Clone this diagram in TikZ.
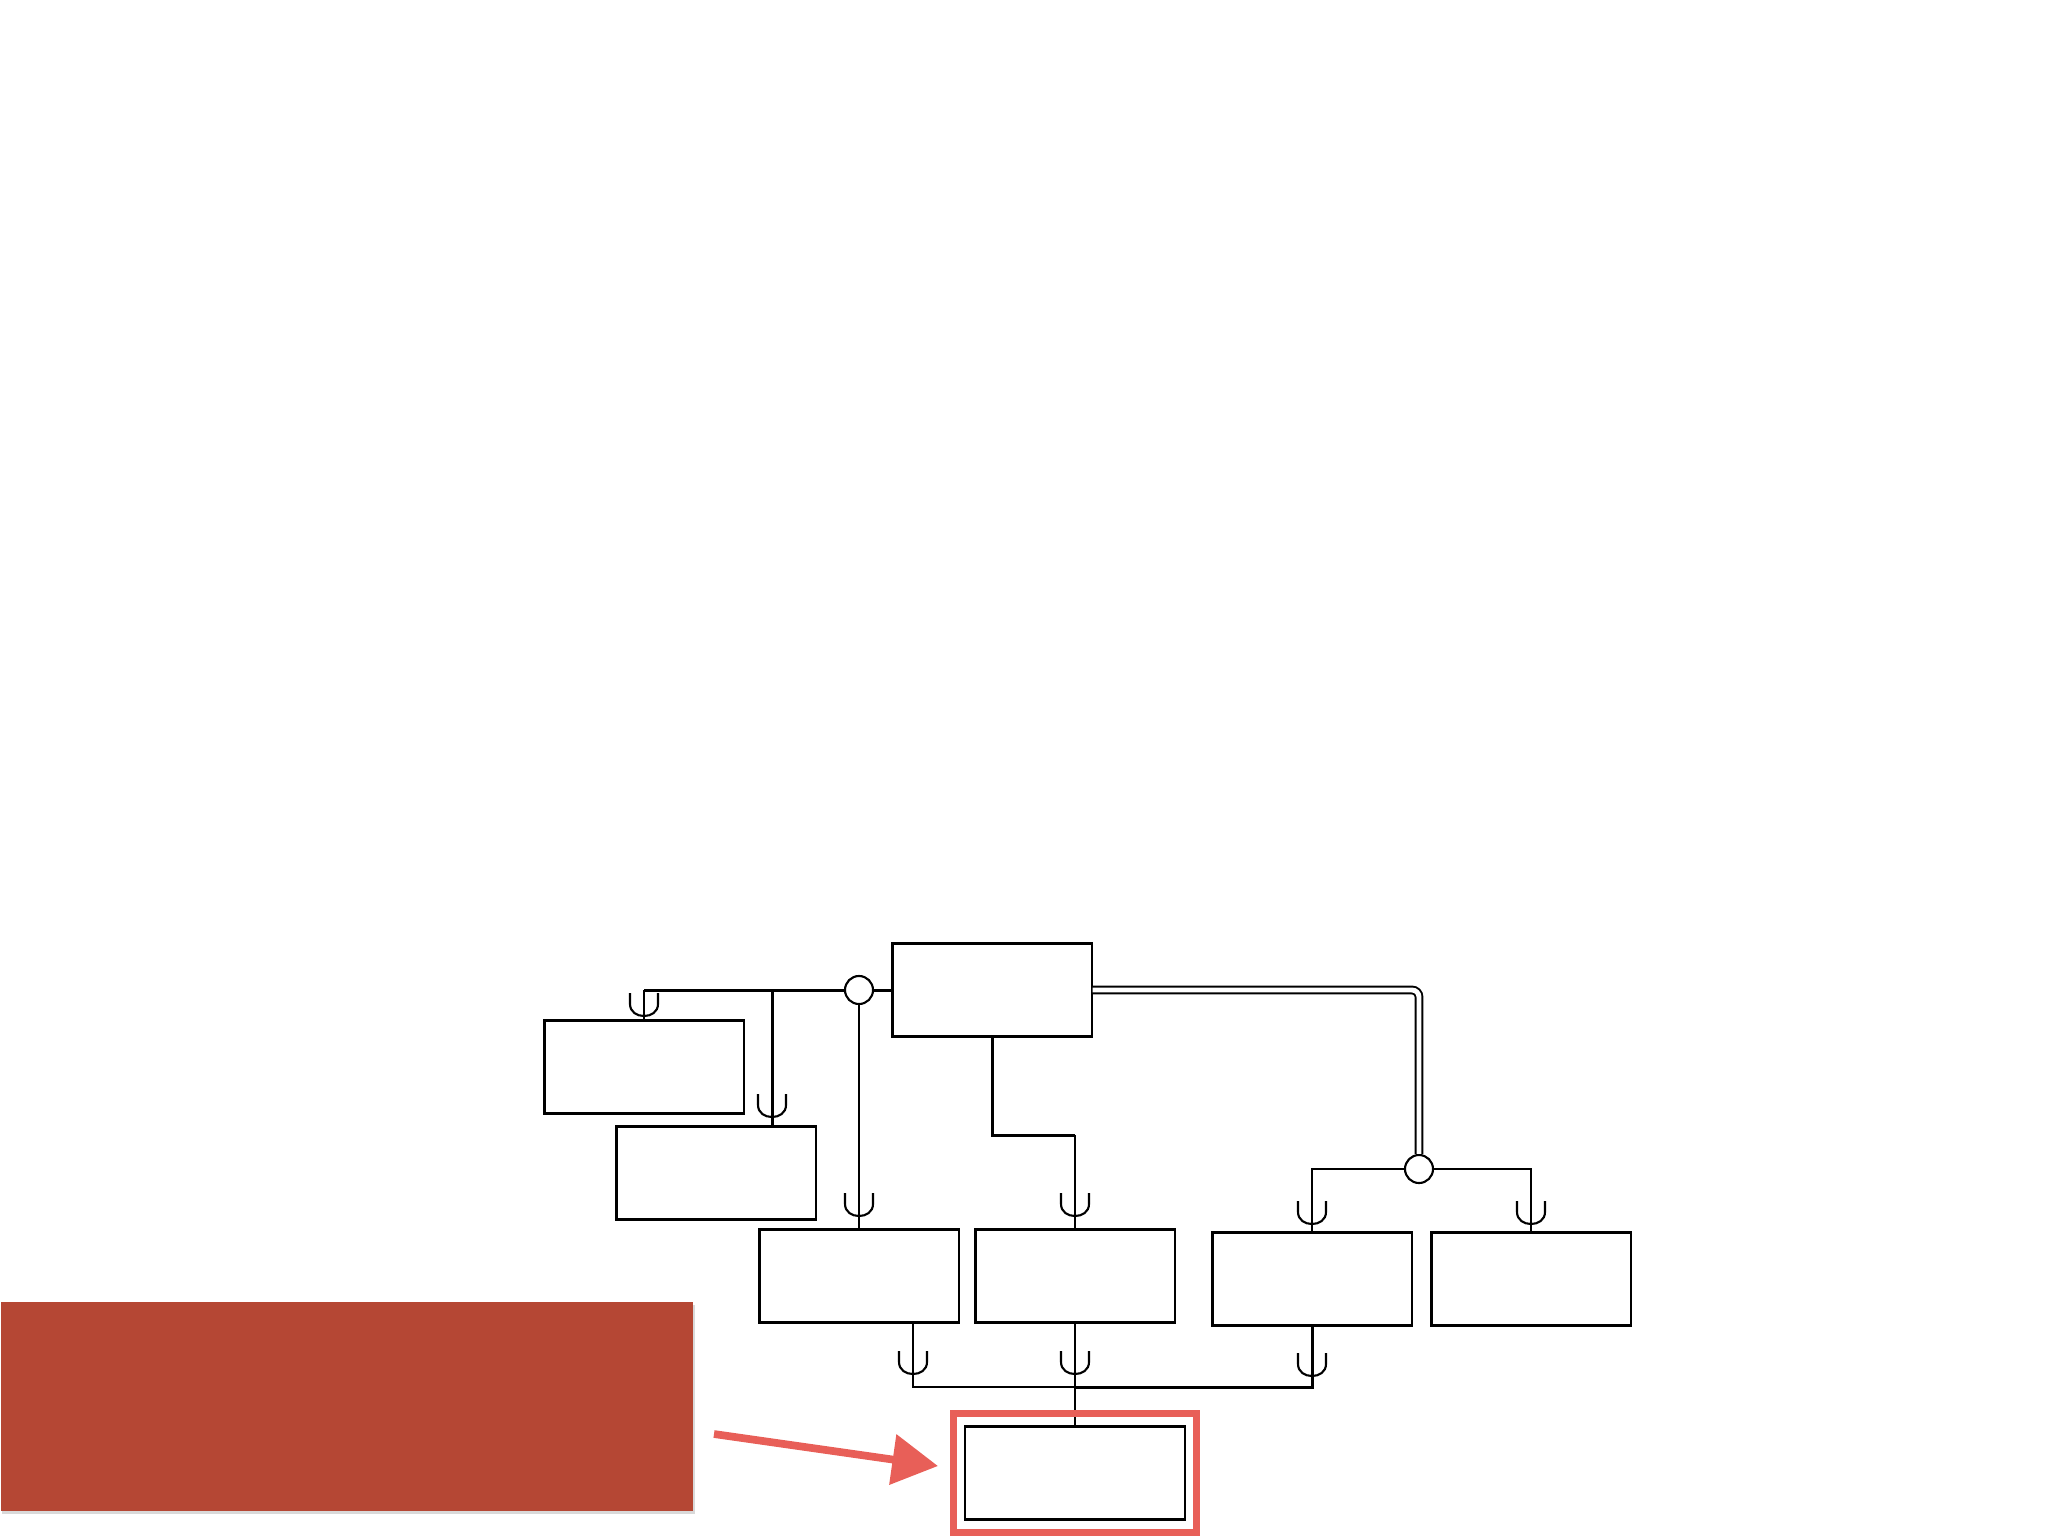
\documentclass[tikz,border=0pt]{standalone}
\usetikzlibrary{arrows.meta,fit,shadows}
\definecolor{brick}{RGB}{181,71,52}
\definecolor{chalk}{RGB}{232,95,88}

\begin{document}
\begin{tikzpicture}[x=0.01cm, y=-0.01cm,
  blk/.style={draw, line width=0.6pt, minimum width=1.99cm, minimum height=0.93cm, inner sep=0pt},
  hub/.style={draw, circle, fill=white, line width=0.6pt, minimum size=0.28cm, inner sep=0pt},
  bus/.style={line width=0.85pt},
  wire/.style={line width=0.5pt},
  sock/.pic={\draw[line width=0.6pt] (-14,0) -- (-14,11) .. controls (-14,27) and (14,27) .. (14,11) -- (14,0);}]
\useasboundingbox (0,0) rectangle (2048,1536);

% boxes
\node[blk] (main) at (992,990) {};
\node[blk] (A) at (644,1067) {};
\node[blk] (B) at (716,1173) {};
\node[blk] (C) at (859,1276) {};
\node[blk] (D) at (1075,1276) {};
\node[blk] (E) at (1312,1279) {};
\node[blk] (F) at (1531,1279) {};
\node[blk, minimum width=2.2cm] (G) at (1075,1473) {};
\node[hub] (c1) at (859,990) {};
\node[hub] (c2) at (1419,1169) {};

% connectors
\coordinate (tapB) at (772,990);
\coordinate (bendD) at (1075,1135);
\coordinate (tapC) at (913,1322);
\coordinate (mrg) at (1075,1387);
\draw[bus] (c1.west) -- (c1.west -| A.north);
\draw[wire] (c1.west -| A.north) -- (A.north);
\draw[bus] (tapB) -- (tapB |- B.north);
\draw[bus] (c1.east) -- (main.west);
\draw[wire] (c1.south) -- (C.north);
\draw[bus] (main.south) |- (bendD);
\draw[wire] (bendD) -- (D.north);
\draw[line width=0.55pt, double, double distance=1.4pt, rounded corners=2pt] (main.east) -| (c2.north);
\draw[wire] (c2.west) -| (E.north);
\draw[wire] (c2.east) -| (F.north);
\draw[wire] (tapC) |- (mrg);
\draw[bus] (E.south) |- (mrg);
\draw[wire] (D.south) -- (G.north);

% sockets
\pic at (644,993) {sock};
\pic at (772,1094) {sock};
\pic at (859,1193) {sock};
\pic at (1075,1193) {sock};
\pic at (1312,1201) {sock};
\pic at (1531,1201) {sock};
\pic at (913,1351) {sock};
\pic at (1075,1351) {sock};
\pic at (1312,1353) {sock};

% red marks
\node[draw=chalk, line width=2pt, fit=(G), inner xsep=0.1cm, inner ysep=0.12cm] (hl) {};
\node[fill=brick, drop shadow={opacity=0.3, shadow xshift=0.4pt, shadow yshift=-1pt}, minimum width=6.92cm, minimum height=2.09cm, inner sep=0pt, anchor=north west] (note) at (0,1301) {};
\coordinate (tail) at (714,1434);
\coordinate (tip) at (938,1466);
\draw[chalk, line width=2.2pt, -{Triangle[length=13pt,width=14pt]}] (tail) -- (tip);
\end{tikzpicture}
\end{document}
